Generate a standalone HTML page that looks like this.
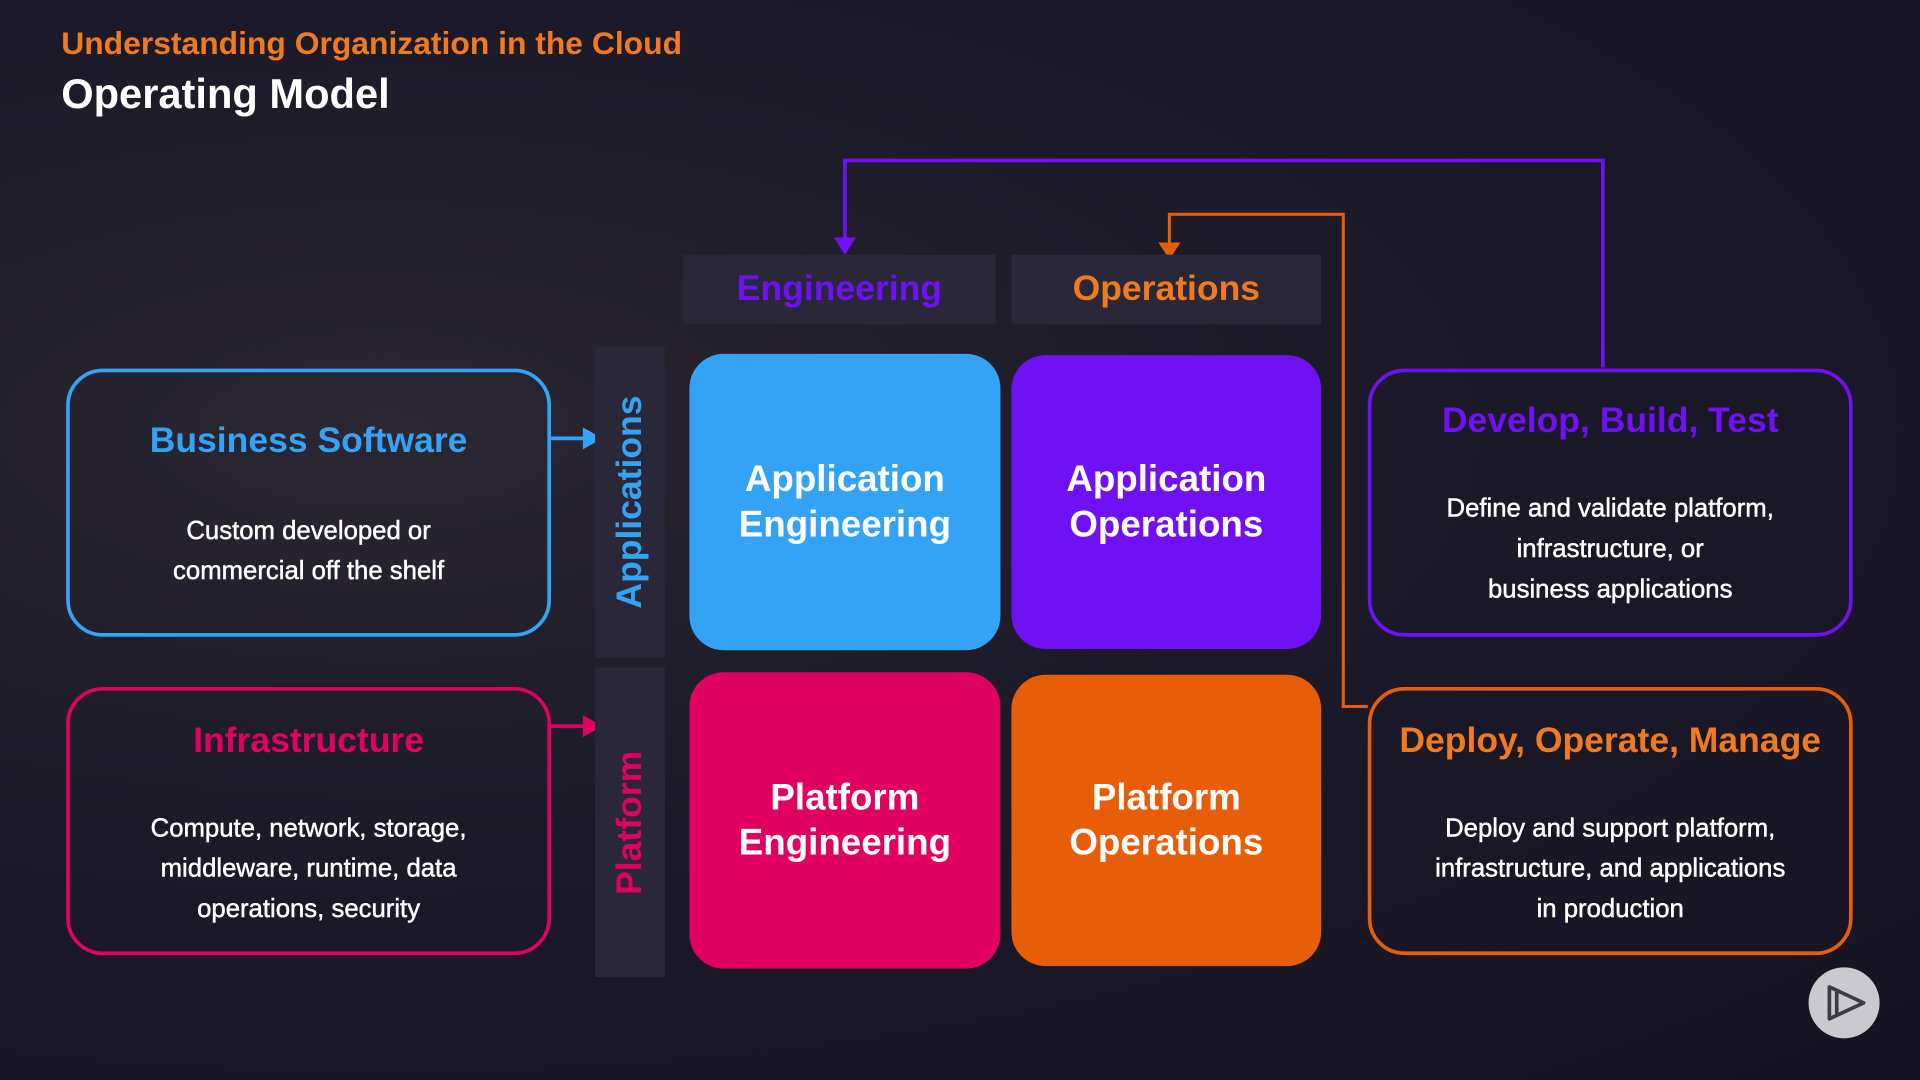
<!DOCTYPE html>
<html><head><meta charset="utf-8"><style>
html,body{margin:0;padding:0;width:1920px;height:1080px;overflow:hidden;background:#181626}
#s{position:absolute;left:0;top:0;width:1568px;height:882px;transform:scale(1.22449);transform-origin:0 0;font-family:"Liberation Sans",sans-serif;font-weight:bold;
background:radial-gradient(ellipse at 20% 40%,#2a2632 0%,#1c1a28 45%,#161422 100%)}
.a{position:absolute;box-sizing:border-box}
.t{display:flex;align-items:center;justify-content:center;text-align:center;color:#fff;font-size:30px;line-height:37px;border-radius:28px}
.h{background:#2a2838;display:flex;align-items:center;justify-content:center;font-size:29px}
.bar{background:#2a2838}
.v{position:absolute;left:50%;top:50%;transform:translate(-50%,-50%) rotate(-90deg);white-space:nowrap;font-size:29px}
.box{border:3px solid;border-radius:30px;text-align:center;color:#fff}
.box .ti{font-size:29px;margin-top:38px}
.box .d{font-size:21px;line-height:33px;font-weight:normal;color:#fff;-webkit-text-stroke:0.4px #fff}
</style></head><body><div id="s">
<div class="a" style="left:50px;top:20px;color:#f07a1f;font-size:26px">Understanding Organization in the Cloud</div>
<div class="a" style="left:50px;top:58px;color:#fff;font-size:34px">Operating Model</div>

<svg class="a" style="left:0;top:0" width="1568" height="882">
<polyline points="1309,300 1309,131 690,131 690,198" fill="none" stroke="#7010f5" stroke-width="3"/>
<polygon points="681,194 699,194 690,208" fill="#7010f5"/>
<polyline points="1117,577 1097,577 1097,175 955,175 955,202" fill="none" stroke="#e85d08" stroke-width="2.5"/>
<polygon points="946,198 964,198 955,212" fill="#e85d08"/>
<line x1="450" y1="358" x2="480" y2="358" stroke="#35a3f5" stroke-width="3"/>
<polygon points="476,349 492,358 476,367" fill="#35a3f5"/>
<line x1="450" y1="593" x2="480" y2="593" stroke="#e0005f" stroke-width="3"/>
<polygon points="476,584 492,593 476,602" fill="#e0005f"/>
<circle cx="1506" cy="819" r="29" fill="#c9c9cf"/>
<polygon points="1494,806 1522,819 1494,832" fill="none" stroke="#3a3a48" stroke-width="3" stroke-linejoin="round"/>
<line x1="1500" y1="810" x2="1500" y2="828" stroke="#3a3a48" stroke-width="3"/>
</svg>

<div class="a h" style="left:558px;top:208px;width:255px;height:57px;color:#7010f5">Engineering</div>
<div class="a h" style="left:826px;top:208px;width:253px;height:57px;color:#f07a1f">Operations</div>
<div class="a bar" style="left:486px;top:283px;width:57px;height:254px"><span class="v" style="color:#35a3f5">Applications</span></div>
<div class="a bar" style="left:486px;top:545px;width:57px;height:253px"><span class="v" style="color:#e0005f">Platform</span></div>

<div class="a t" style="left:563px;top:289px;width:254px;height:242px;background:#35a3f5">Application<br>Engineering</div>
<div class="a t" style="left:826px;top:290px;width:253px;height:240px;background:#7010f5">Application<br>Operations</div>
<div class="a t" style="left:563px;top:549px;width:254px;height:242px;background:#e0005f">Platform<br>Engineering</div>
<div class="a t" style="left:826px;top:551px;width:253px;height:238px;background:#e85d08">Platform<br>Operations</div>

<div class="a box" style="left:54px;top:301px;width:396px;height:219px;border-color:#35a3f5"><div class="ti" style="color:#35a3f5;margin-top:40px">Business Software</div><div class="d" style="margin-top:40px">Custom developed or<br>commercial off the shelf</div></div>
<div class="a box" style="left:54px;top:561px;width:396px;height:219px;border-color:#e0005f"><div class="ti" style="color:#e0005f;margin-top:25px">Infrastructure</div><div class="d" style="margin-top:38px">Compute, network, storage,<br>middleware, runtime, data<br>operations, security</div></div>
<div class="a box" style="left:1117px;top:301px;width:396px;height:219px;border-color:#7010f5"><div class="ti" style="color:#7010f5;margin-top:24px">Develop, Build, Test</div><div class="d" style="margin-top:38px">Define and validate platform,<br>infrastructure, or<br>business applications</div></div>
<div class="a box" style="left:1117px;top:561px;width:396px;height:219px;border-color:#e85d08"><div class="ti" style="color:#f07a1f;margin-top:25px">Deploy, Operate, Manage</div><div class="d" style="margin-top:38px">Deploy and support platform,<br>infrastructure, and applications<br>in production</div></div>
</div></body></html>
